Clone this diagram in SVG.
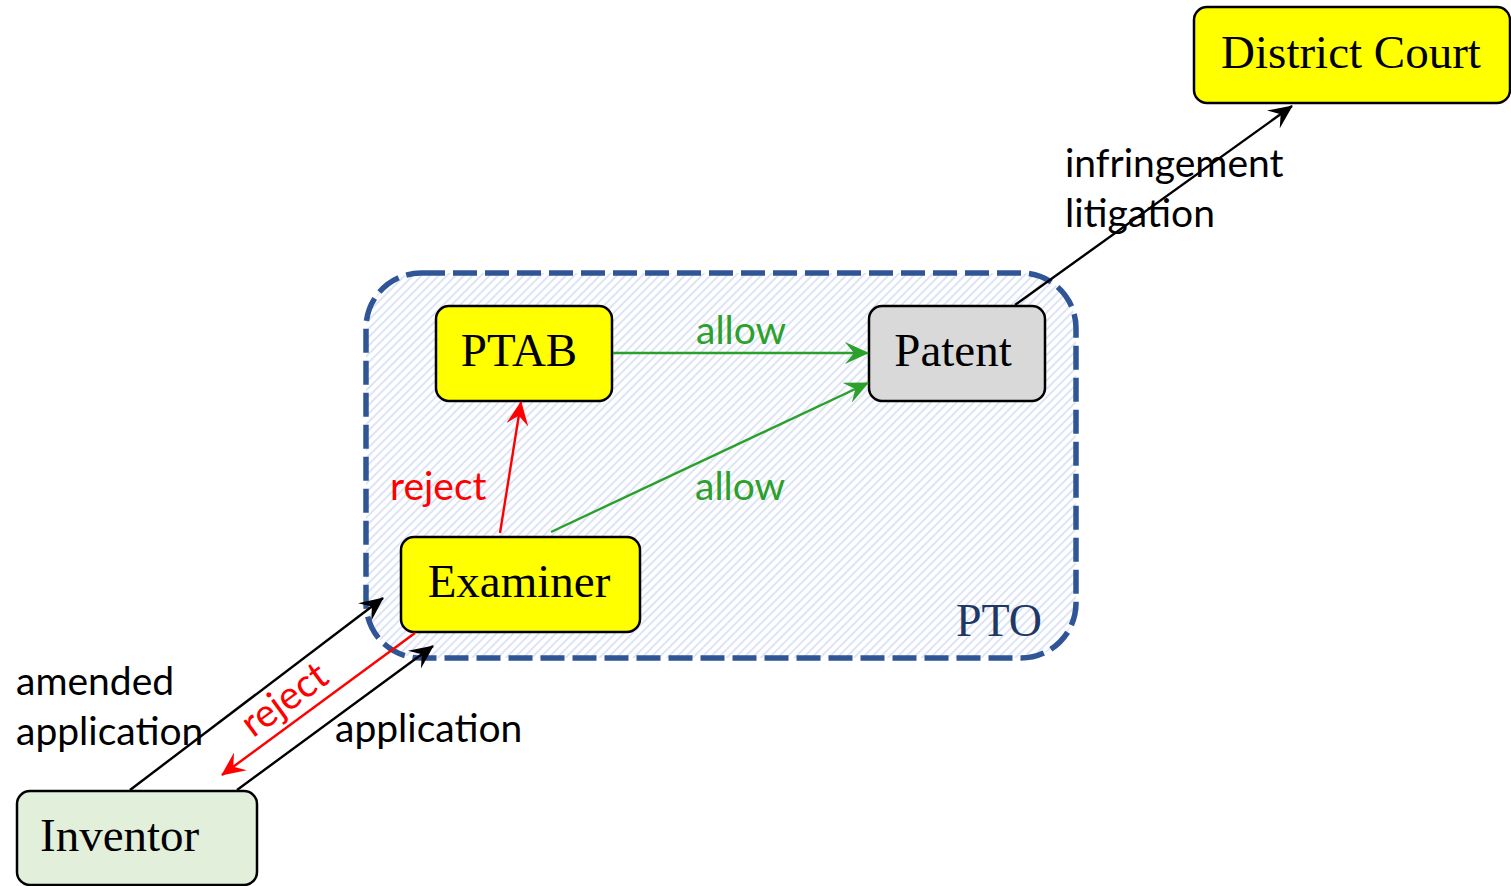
<svg xmlns="http://www.w3.org/2000/svg" width="1511" height="886" viewBox="0 0 1511 886">
<defs>
<pattern id="hatch" patternUnits="userSpaceOnUse" width="6" height="6" patternTransform="rotate(45)">
<rect width="6" height="6" fill="#ffffff"/>
<line x1="1" y1="0" x2="1" y2="6" stroke="#d5def3" stroke-width="1.6"/>
</pattern>
<marker id="ah-black" viewBox="0 0 24 22" markerWidth="24" markerHeight="22" refX="23" refY="11" orient="auto" markerUnits="userSpaceOnUse">
<path d="M0,0 L24,11 L0,22 L9,11 z" fill="#000"/>
</marker>
<marker id="ah-red" viewBox="0 0 24 22" markerWidth="24" markerHeight="22" refX="23" refY="11" orient="auto" markerUnits="userSpaceOnUse">
<path d="M0,0 L24,11 L0,22 L9,11 z" fill="#ff0000"/>
</marker>
<marker id="ah-green" viewBox="0 0 24 22" markerWidth="24" markerHeight="22" refX="23" refY="11" orient="auto" markerUnits="userSpaceOnUse">
<path d="M0,0 L24,11 L0,22 L9,11 z" fill="#2ca02c"/>
</marker>
</defs>
<style>
.node{stroke:#000;stroke-width:2.5}
.nl{font-family:"Liberation Serif","Times New Roman",serif;font-size:47px;fill:#000}
.el{font-family:Lato,"Open Sans","Liberation Sans",sans-serif;font-size:39px}
.blk{stroke:#000;stroke-width:2.4;fill:none}
.red{stroke:#ff0000;stroke-width:2.4;fill:none}
.grn{stroke:#2ca02c;stroke-width:2.4;fill:none}
</style>
<rect width="1511" height="886" fill="#ffffff"/>

<g id="pto">
<rect x="366" y="273" width="710" height="385" rx="55" ry="55" fill="url(#hatch)" stroke="#2f5597" stroke-width="5.5" stroke-dasharray="24 8"/>
<text x="956" y="636" font-family="Liberation Serif,Times New Roman,serif" font-size="46" fill="#1f3864">PTO</text>
</g>

<g id="district-court">
<rect class="node" x="1194" y="7" width="316" height="96" rx="13" fill="#ffff00"/>
<text class="nl" x="1351" y="68" text-anchor="middle">District Court</text>
</g>

<g id="ptab">
<rect class="node" x="436" y="306" width="176" height="95" rx="13" fill="#ffff00"/>
<text class="nl" x="519" y="366" text-anchor="middle">PTAB</text>
</g>

<g id="patent">
<rect class="node" x="869" y="306" width="176" height="95" rx="13" fill="#d9d9d9"/>
<text class="nl" x="953" y="366" text-anchor="middle">Patent</text>
</g>

<g id="examiner">
<rect class="node" x="401" y="537" width="239" height="95" rx="13" fill="#ffff00"/>
<text class="nl" x="519" y="597" text-anchor="middle">Examiner</text>
</g>

<g id="inventor">
<rect class="node" x="17" y="791" width="240" height="94" rx="13" fill="#e2efda"/>
<text class="nl" x="40" y="851">Inventor</text>
</g>

<g id="connectors">
<line class="grn" x1="613" y1="353" x2="868" y2="353" marker-end="url(#ah-green)"/>
<line class="grn" x1="551" y1="532" x2="868" y2="383" marker-end="url(#ah-green)"/>
<line class="red" x1="500" y1="533" x2="521" y2="402" marker-end="url(#ah-red)"/>
<line class="blk" x1="1015" y1="305" x2="1292" y2="106" marker-end="url(#ah-black)"/>
<line class="blk" x1="130" y1="790" x2="383" y2="598" marker-end="url(#ah-black)"/>
<line class="blk" x1="237" y1="790" x2="433" y2="646" marker-end="url(#ah-black)"/>
<line class="red" x1="415" y1="633" x2="222" y2="775" marker-end="url(#ah-red)"/>
</g>

<g id="labels">
<text class="el" x="696" y="344" fill="#2ca02c">allow</text>
<text class="el" x="695" y="500" fill="#2ca02c">allow</text>
<text class="el" x="390" y="500" fill="#ff0000">reject</text>
<text class="el" x="1065" y="177" fill="#000">infringement</text>
<text class="el" x="1065" y="227" fill="#000">litigation</text>
<text class="el" x="16" y="695" fill="#000">amended</text>
<text class="el" x="16" y="745" fill="#000">application</text>
<text class="el" x="335" y="742" fill="#000">application</text>
<text class="el" x="0" y="0" fill="#ff0000" text-anchor="middle" transform="translate(292,710) rotate(-36.3)">reject</text>
</g>
</svg>
